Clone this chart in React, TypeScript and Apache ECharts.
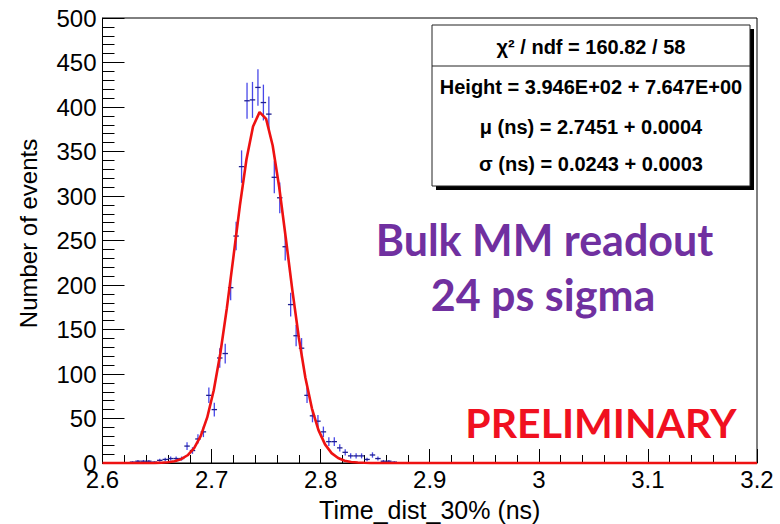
import React, { useEffect, useRef } from 'react';
import * as echarts from 'echarts';

// Histogram bins (bin width 0.005 ns), centres and counts
const binCenters = [
  2.6275, 2.6325, 2.6375, 2.6425, 2.6475, 2.6525, 2.6575, 2.6625, 2.6675, 2.6725,
  2.6775, 2.6825, 2.6875, 2.6925, 2.6975, 2.7025, 2.7075, 2.7125, 2.7175, 2.7225,
  2.7275, 2.7325, 2.7375, 2.7425, 2.7475, 2.7525, 2.7575, 2.7625, 2.7675, 2.7725,
  2.7775, 2.7825, 2.7875, 2.7925, 2.7975, 2.8025, 2.8075, 2.8125, 2.8175, 2.8225,
  2.8275, 2.8325, 2.8375, 2.8425, 2.8475, 2.8525, 2.8575, 2.8625, 2.8675,
];
const binCounts = [
  1, 2, 2, 2, 1, 3, 4, 5, 5, 5,
  19, 14, 27, 35, 76, 60, 118, 123, 197, 255,
  333, 407, 408, 422, 405, 392, 321, 298, 243, 178,
  143, 129, 76, 53, 47, 35, 24, 24, 17, 12,
  8, 8, 8, 4, 9, 5, 2, 2, 1,
];
const binHalfWidth = 0.0025;

// Fitted gaussian curve, sampled as drawn
const curveX = [
  2.6, 2.648, 2.654, 2.66, 2.666, 2.672, 2.678, 2.684, 2.69, 2.696, 2.702, 2.708,
  2.714, 2.72, 2.726, 2.732, 2.738, 2.744, 2.75, 2.756, 2.762, 2.768, 2.774, 2.78,
  2.786, 2.792, 2.798, 2.804, 2.81, 2.816, 2.822, 2.828, 2.834, 2.84, 2.846, 3.2,
];
const curveY = [
  0, 0.1, 0.35, 0.9, 2.0, 4.3, 8.7, 16.7, 30.2, 51.2, 81.8, 123.0,
  174.0, 231.4, 289.8, 341.3, 378.1, 394.2, 386.7, 356.8, 309.8, 253.1, 194.6, 140.7,
  95.7, 61.2, 36.9, 20.9, 11.1, 5.6, 2.6, 1.2, 0.5, 0.2, 0.05, 0,
];

const xTitle = 'Time_dist_30% (ns)';
const yTitle = 'Number of events';
const statsLines = [
  'χ² / ndf = 160.82 / 58',
  'Height = 3.946E+02 + 7.647E+00',
  'μ (ns) = 2.7451 + 0.0004',
  'σ (ns) = 0.0243 + 0.0003',
];
const noteLines = ['Bulk MM readout', '24 ps sigma'];
const stamp = 'PRELIMINARY';

const SANS = '"Liberation Sans", Arial, Helvetica, sans-serif';
const NOTE_FONT = 'Lato, "Open Sans", sans-serif';

export default function App() {
  const ref = useRef<HTMLDivElement>(null);

  useEffect(() => {
    if (!ref.current) return;
    const chart = echarts.init(ref.current, undefined, { renderer: 'svg' });

    const statsY = [47, 87, 127, 164];

    const option: any = {
      animation: false,
      backgroundColor: '#ffffff',
      grid: {
        left: 102.5,
        top: 18,
        right: 23,
        bottom: 61,
        show: true,
        borderColor: '#000',
        borderWidth: 1,
        backgroundColor: '#fff',
        containLabel: false,
        outerBoundsMode: 'none',
      },
      xAxis: {
        type: 'value',
        min: 2.6,
        max: 3.2,
        interval: 0.1,
        name: xTitle,
        nameLocation: 'middle',
        nameGap: 34,
        nameTextStyle: { fontFamily: SANS, fontSize: 25, color: '#000' },
        axisLine: { show: true, onZero: false, lineStyle: { color: '#000', width: 1 } },
        axisTick: { show: true, inside: true, length: 14, lineStyle: { color: '#000', width: 1 } },
        minorTick: { show: true, splitNumber: 5, length: 8, lineStyle: { color: '#000', width: 1 } },
        splitLine: { show: false },
        axisLabel: {
          fontFamily: SANS,
          fontSize: 24,
          color: '#000',
          margin: 4,
          showMinLabel: true,
          showMaxLabel: true,
          formatter: (v: number) => String(Math.round(v * 10) / 10),
        },
      },
      yAxis: {
        type: 'value',
        min: 0,
        max: 500,
        interval: 50,
        name: yTitle,
        nameLocation: 'middle',
        nameGap: 62,
        nameTextStyle: { fontFamily: SANS, fontSize: 24, color: '#000', padding: [0, 0, 0, 14] },
        axisLine: { show: true, onZero: false, lineStyle: { color: '#000', width: 1 } },
        axisTick: { show: true, inside: true, length: 22, lineStyle: { color: '#000', width: 1 } },
        minorTick: { show: true, splitNumber: 5, length: 12, lineStyle: { color: '#000', width: 1 } },
        splitLine: { show: false },
        axisLabel: {
          fontFamily: SANS,
          fontSize: 24,
          color: '#000',
          margin: 6,
          showMinLabel: true,
          showMaxLabel: true,
        },
      },
      series: [
        {
          type: 'custom',
          name: 'data',
          z: 2,
          clip: true,
          data: binCenters.map((x, i) => [x, binCounts[i]]),
          renderItem: (_params: any, api: any) => {
            const x = api.value(0);
            const y = api.value(1);
            const e = Math.sqrt(y);
            const top = api.coord([x, y + e]);
            const bot = api.coord([x, Math.max(0, y - e)]);
            const l = api.coord([x - binHalfWidth, y]);
            const r = api.coord([x + binHalfWidth, y]);
            return {
              type: 'group',
              children: [
                {
                  type: 'line',
                  shape: { x1: top[0], y1: top[1], x2: bot[0], y2: bot[1] },
                  style: { stroke: '#4848e8', lineWidth: 1.3 },
                },
                {
                  type: 'line',
                  shape: { x1: l[0], y1: l[1], x2: r[0], y2: r[1] },
                  style: { stroke: '#1e1e90', lineWidth: 1.3 },
                },
              ],
            };
          },
        },
        {
          type: 'line',
          name: 'fit',
          z: 3,
          clip: false,
          showSymbol: false,
          symbol: 'none',
          smooth: false,
          data: curveX.map((x, i) => [x, curveY[i]]),
          lineStyle: { color: '#ee1111', width: 2.6 },
          itemStyle: { color: '#ee1111' },
        },
      ],
      graphic: [
        // stats box shadow
        {
          type: 'rect',
          z: 10,
          shape: { x: 436, y: 29, width: 318, height: 161 },
          style: { fill: '#000' },
        },
        {
          type: 'rect',
          z: 11,
          shape: { x: 432, y: 25, width: 318, height: 161 },
          style: { fill: '#fff', stroke: '#222', lineWidth: 1 },
        },
        {
          type: 'line',
          z: 12,
          shape: { x1: 432, y1: 66, x2: 750, y2: 66 },
          style: { stroke: '#222', lineWidth: 1 },
        },
        ...statsLines.map((t, i) => ({
          type: 'text',
          z: 13,
          style: {
            text: t,
            x: 591,
            y: statsY[i],
            align: 'center',
            verticalAlign: 'middle',
            font: `bold 20px ${SANS}`,
            fill: '#000',
          },
        })),
        {
          type: 'text',
          z: 13,
          style: {
            text: noteLines[0],
            x: 544.5,
            y: 239,
            align: 'center',
            verticalAlign: 'middle',
            font: `bold 43px ${NOTE_FONT}`,
            fill: '#7030a0',
          },
        },
        {
          type: 'text',
          z: 13,
          style: {
            text: noteLines[1],
            x: 543,
            y: 294,
            align: 'center',
            verticalAlign: 'middle',
            font: `bold 43px ${NOTE_FONT}`,
            fill: '#7030a0',
          },
        },
        {
          type: 'text',
          z: 13,
          style: {
            text: stamp,
            x: 601,
            y: 422,
            align: 'center',
            verticalAlign: 'middle',
            font: `bold 41px ${NOTE_FONT}`,
            fill: '#f01020',
          },
        },
      ],
    };

    chart.setOption(option);
    return () => chart.dispose();
  }, []);

  return (
    <div
      ref={ref}
      style={{ position: 'fixed', left: 0, top: 0, width: 780, height: 524, background: '#fff' }}
    />
  );
}
